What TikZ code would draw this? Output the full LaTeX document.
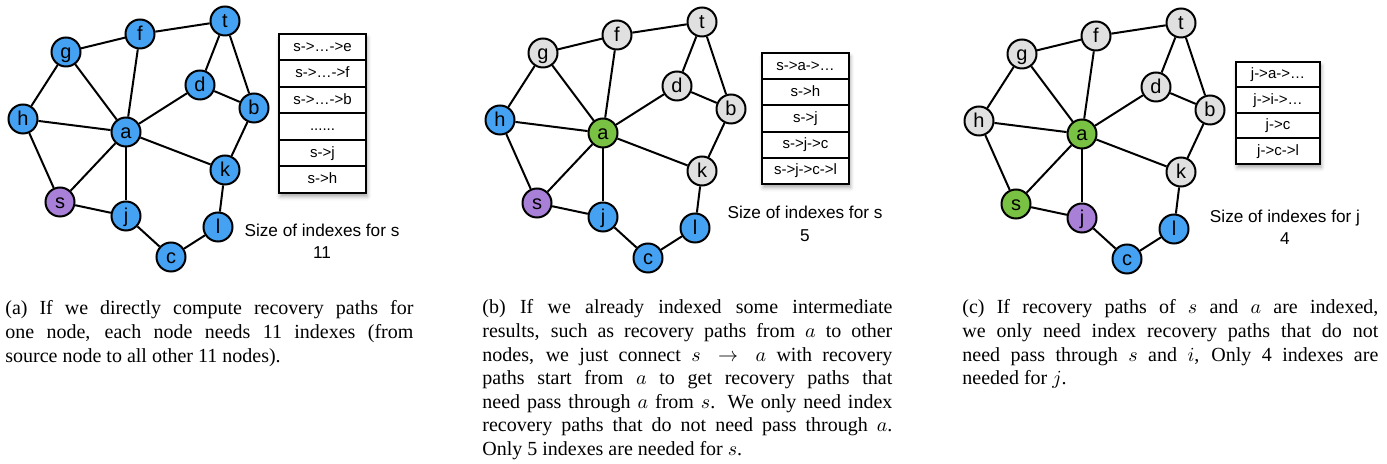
\documentclass[tikz,border=0pt]{standalone}
\usepackage{fontspec}
\setmainfont{Liberation Serif}
\newfontfamily\sansfont{Liberation Sans}
\usetikzlibrary{shadows.blur}
\pgfdeclarelayer{background}
\pgfsetlayers{background,main}
\definecolor{nblue}{RGB}{69,162,242}
\definecolor{ngreen}{RGB}{121,193,67}
\definecolor{npurple}{RGB}{169,128,216}
\definecolor{ngray}{RGB}{224,224,224}
\def\rowdots{......}
\tikzset{
  vert/.style={circle, draw, line width=1pt, minimum size=14.5pt, inner sep=0pt,
    text height=9pt, text depth=2.1pt, font=\sansfont\fontsize{10}{11}\selectfont},
  edge/.style={line width=1pt},
  row/.style={draw, fill=white, line width=1pt, inner sep=0pt, outer sep=0pt,
    text height=5.6pt, text depth=1.6pt, font=\sansfont\fontsize{7.5}{9}\selectfont},
  sizetext/.style={align=center, inner sep=0pt, font=\sansfont\fontsize{8.6}{11.2}\selectfont},
  caption/.style={align=justify, inner sep=0pt, anchor=base west, font=\fontsize{10}{11.8}\selectfont},
  tableshadow/.style={fill=white, blur shadow={shadow xshift=0.6pt, shadow yshift=-1.8pt,
    shadow blur radius=2pt, shadow opacity=35}},
  A-base/.style={fill=nblue}, A-s/.style={fill=npurple},
  B-base/.style={fill=ngray}, B-a/.style={fill=ngreen}, B-s/.style={fill=npurple},
  B-h/.style={fill=nblue}, B-j/.style={fill=nblue}, B-c/.style={fill=nblue}, B-l/.style={fill=nblue},
  C-base/.style={fill=ngray}, C-a/.style={fill=ngreen}, C-s/.style={fill=ngreen},
  C-j/.style={fill=npurple}, C-c/.style={fill=nblue}, C-l/.style={fill=nblue}
}
\begin{document}
\begin{tikzpicture}[x=0.5pt, y=-0.5pt]
\useasboundingbox (0,0) rectangle (1387,464);
% the same graph three times
\foreach \p/\dx/\dy in {A/0/0, B/477/1, C/956/2} {
  \begin{scope}[shift={(\dx,\dy)}]
    \foreach \n/\x/\y in {t/225/21, f/140/34, g/66/52, d/200/85, b/254/108, h/23/119,
        a/126/132, k/225/170, s/60/202, j/126/216, l/218/227, c/171/257}
      \node[vert, \p-base, \p-\n/.try] (\p\n) at (\x,\y) {\n};
    \foreach \u/\v in {f/t, g/f, g/h, g/a, f/a, t/d, t/b, d/b, d/a, h/a,
        h/s, a/s, a/j, a/k, b/k, k/l, s/j, j/c, c/l}
      \draw[edge] (\p\u) -- (\p\v);
  \end{scope}
}
% index tables
\foreach \rt [count=\i] in {s->…->e, s->…->f, s->…->b, \rowdots, s->j, s->h}
  \node[row, minimum width=43.5pt, minimum height=13.25pt] (Ar\i) at (322.5, {20.75+26.5*\i}) {\rt};
\foreach \rt [count=\i] in {s->a->…, s->h, s->j, s->j->c, s->j->c->l}
  \node[row, minimum width=43.5pt, minimum height=13.1pt] (Br\i) at (805.5, {39.9+26.2*\i}) {\rt};
\foreach \rt [count=\i] in {j->a->…, j->i->…, j->c, j->c->l}
  \node[row, minimum width=42pt, minimum height=12.75pt] (Cr\i) at (1278, {49.25+25.5*\i}) {\rt};
\begin{pgfonlayer}{background}
  \path[tableshadow] (Ar1.north west) rectangle (Ar6.south east);
  \path[tableshadow] (Br1.north west) rectangle (Br5.south east);
  \path[tableshadow] (Cr1.north west) rectangle (Cr4.south east);
\end{pgfonlayer}
\node[sizetext] (Asize) at (322,241.5) {Size of indexes for s\\11};
\node[sizetext] (Bsize) at (805,224) {Size of indexes for s\\5};
\node[sizetext] (Csize) at (1285,227.5) {Size of indexes for j\\4};
% captions
\node[caption, text width=204pt] (Acap) at (5,315) {(a) If we directly compute recovery paths for\linebreak
  one node, each node needs 11 indexes (from\linebreak source node to all other 11 nodes).};
\node[caption, text width=205pt] (Bcap) at (482,314) {(b) If we already indexed some intermediate\linebreak
  results, such as recovery paths from $a$ to other\linebreak nodes, we just connect $s\rightarrow a$ with recovery\linebreak
  paths start from $a$ to get recovery paths that\linebreak need pass through $a$ from $s$. We only need index\linebreak
  recovery paths that do not need pass through $a$.\linebreak Only 5 indexes are needed for $s$.};
\node[caption, text width=208pt] (Ccap) at (962,314) {(c) If recovery paths of $s$ and $a$ are indexed,\linebreak
  we only need index recovery paths that do not\linebreak need pass through $s$ and $i$, Only 4 indexes are\linebreak
  needed for $j$.};
\end{tikzpicture}
\end{document}
